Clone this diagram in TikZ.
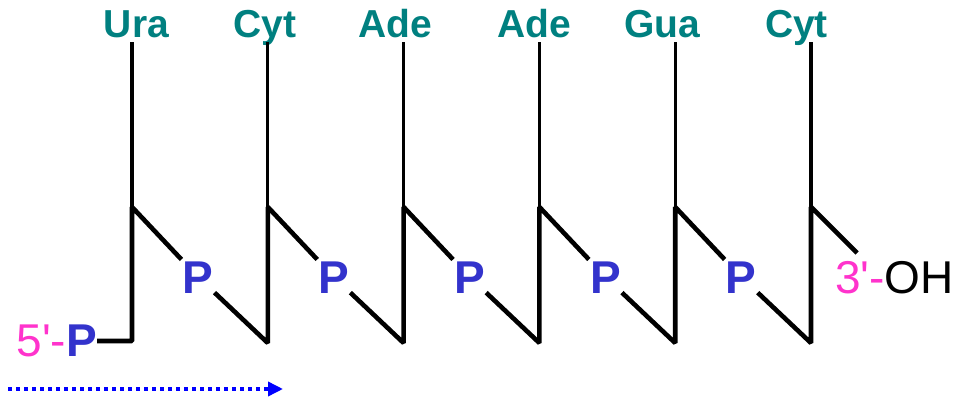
\documentclass[tikz,border=0pt]{standalone}
\usepackage{fontspec}
\setmainfont{Liberation Sans}[Ligatures=TeXOff]
\usetikzlibrary{arrows.meta}
\definecolor{baseteal}{RGB}{0,128,128}
\definecolor{phosblue}{RGB}{51,51,204}
\definecolor{endpink}{RGB}{255,51,204}
\tikzset{
  base/.style={text=baseteal, font=\fontsize{39}{39}\selectfont\bfseries, inner sep=0pt, text depth=0pt},
  phos/.style={text=phosblue, font=\fontsize{46}{46}\selectfont\bfseries, inner sep=1pt, text height=33pt, text depth=0pt},
  stem/.style={line width=3.2pt},
  chain/.style={line width=4.6pt, line join=bevel},
}
\begin{document}
\begin{tikzpicture}[x=1pt, y=-1pt]
    \useasboundingbox (0,0) rectangle (959,398);

    % bases on the sugars
    \foreach \b/\lx [count=\i from 0] in {Ura/136.5,Cyt/265,Ade/395,Ade/534,Gua/662.5,Cyt/796.5} {
        \pgfmathsetmacro\x{132+135.8*\i}
        \node[base, anchor=base] (b\i) at (\lx,38) {\b};
        \coordinate (s\i) at (\x,207);
        \coordinate (c\i) at (\x,343);
        \draw[stem] (b\i.south -| s\i) ++(0,4) -- (s\i);
    }
    \foreach \i in {0,...,4}
        \node[phos] (p\i) at ({132+135.8*\i+66},277) {P};

    \node[anchor=east, inner sep=0pt, font=\fontsize{46}{46}\selectfont] (five) at (97,341)
        {\textcolor{endpink}{5'-}\textcolor{phosblue}{\bfseries P}};
    \node[anchor=west, inner sep=0pt, font=\fontsize{46}{46}\selectfont] (oh) at (835,278)
        {\textcolor{endpink}{3'-}OH};
    \coordinate (t5) at (857,253);

    \draw[chain] (five) -| (s0) -- (p0);
    \foreach \i/\j in {0/1,1/2,2/3,3/4}
        \draw[chain] (p\i) -- (c\j) -- (s\j) -- (p\j);
    \draw[chain] (p4) -- (c5) -- (s5) -- (t5);

    \coordinate (a0) at (8,389);
    \coordinate (a1) at (283,389);
    \draw[blue, line width=3.5pt, dash pattern=on 3.5pt off 4.5pt,
        -{Triangle[length=15pt, width=14pt]}] (a0) -- (a1);
\end{tikzpicture}
\end{document}
